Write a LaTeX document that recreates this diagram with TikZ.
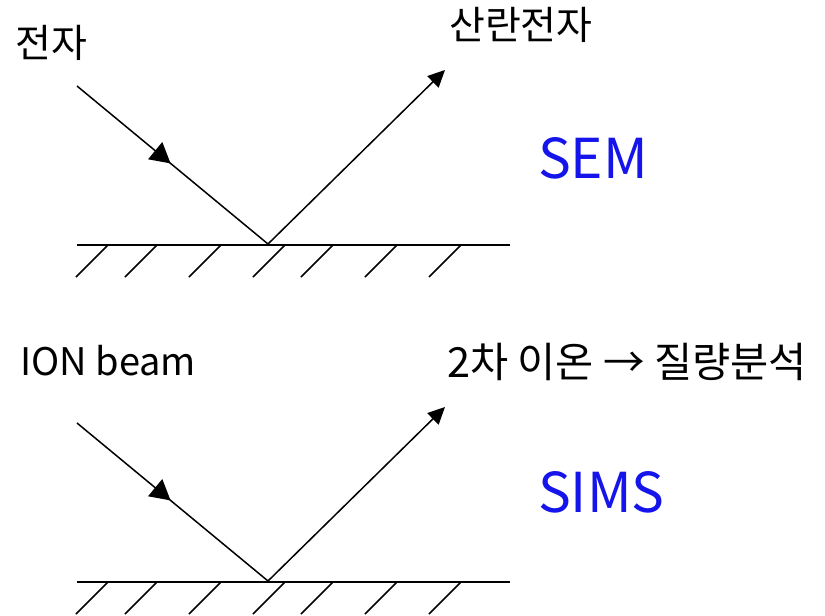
\documentclass[tikz,border=0pt]{standalone}
\usepackage{fontspec}
\setmainfont{Noto Sans CJK KR}
\usetikzlibrary{arrows.meta,decorations.markings}
\definecolor{labelblue}{RGB}{20,20,235}
\tikzset{
  ray/.style={line width=1.5pt},
  outray/.style={ray,-{Triangle[length=17pt,width=16pt]}},
  inray/.style={ray,postaction={decorate},decoration={markings,
      mark=at position 0.49 with {\arrow{Triangle[length=20pt,width=22pt]}}}},
  surface/.style={line width=1.5pt},
  lbl/.style={anchor=base west,inner sep=0pt,font=\fontsize{39}{44}\selectfont},
  lblb/.style={anchor=base west,inner sep=0pt,font=\fontsize{41.5}{46}\selectfont},
  big/.style={anchor=base west,inner sep=0pt,text=labelblue,font=\fontsize{55}{60}\selectfont}
}
\begin{document}
\begin{tikzpicture}[x=1pt,y=-1pt]
\useasboundingbox (0,0) rectangle (825,616);
\foreach \name/\dy in {top/0,bot/337}{
  \begin{scope}[yshift=-\dy pt]
    \coordinate (\name-in) at (77,86);
    \coordinate (\name-v) at (268,244);
    \coordinate (\name-out) at (445,70);
    \coordinate (\name-sl) at (77,245);
    \coordinate (\name-sr) at (510,245);
    \draw[surface] (\name-sl) -- (\name-sr);
    \foreach \hx in {108,157,221,285,333,397,461}
      \draw[surface] (\hx,245) -- ++(-32,32);
    \draw[inray] (\name-in) -- (\name-v);
    \draw[outray] (\name-v) -- (\name-out);
  \end{scope}
}
\node[lbl] (t1) at (15,57) {전자};
\node[lbl] (t2) at (449,39) {산란전자};
\node[big] (t3) at (538,178) {SEM};
\node[lbl,font=\fontsize{38}{42}\selectfont] (t4) at (20,375) {ION beam};
\node[lblb] (t5) at (447,377) {2차 이온 → 질량분석};
\node[big] (t6) at (538,512) {SIMS};
\end{tikzpicture}
\end{document}
